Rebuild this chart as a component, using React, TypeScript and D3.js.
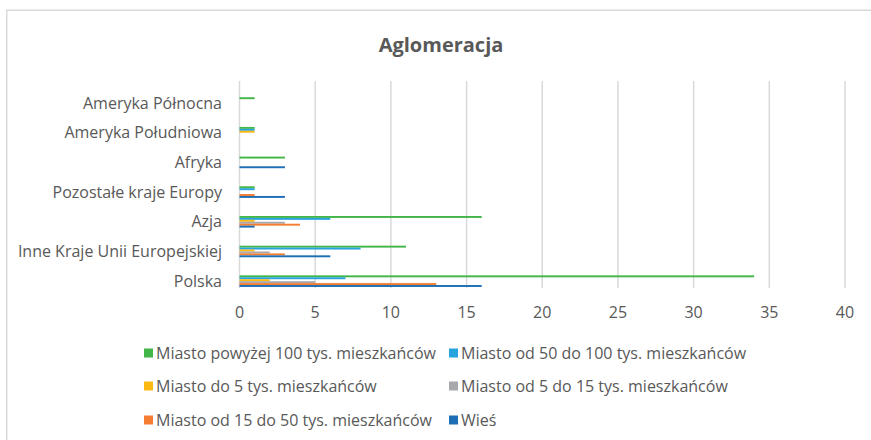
import React from "react";
import * as d3 from "d3";

const categories = [
  "Polska",
  "Inne Kraje Unii Europejskiej",
  "Azja",
  "Pozostałe kraje Europy",
  "Afryka",
  "Ameryka Południowa",
  "Ameryka Północna",
];

const seriesNames = [
  "Miasto powyżej 100 tys. mieszkańców",
  "Miasto od 50 do 100 tys. mieszkańców",
  "Miasto do 5 tys. mieszkańców",
  "Miasto od 5 do 15 tys. mieszkańców",
  "Miasto od 15 do 50 tys. mieszkańców",
  "Wieś",
];

const powyzej100 = [34, 11, 16, 1, 3, 1, 1];
const od50do100 = [7, 8, 6, 1, 0, 1, 0];
const do5 = [2, 1, 1, 0, 0, 1, 0];
const od5do15 = [5, 2, 3, 0, 0, 0, 0];
const od15do50 = [13, 3, 4, 1, 0, 0, 0];
const wies = [16, 6, 1, 3, 3, 0, 0];

const seriesValues = [powyzej100, od50do100, do5, od5do15, od15do50, wies];
const colors = ["#43B649", "#27A3DD", "#FDB913", "#A8A9AD", "#F47D30", "#1E6EB6"];

const xTicks = [0, 5, 10, 15, 20, 25, 30, 35, 40];

const W = 871;
const H = 440;
const FONT = "'Open Sans', sans-serif";
const TEXT = "#595959";

export default function App() {
  const x = d3.scaleLinear().domain([0, 40]).range([239.5, 845]);
  const y = d3
    .scaleBand<string>()
    .domain([...categories].reverse())
    .range([88.2, 296])
    .paddingInner(0)
    .paddingOuter(0);
  const groupH = 11.6;
  const inner = d3
    .scaleBand<string>()
    .domain(seriesNames)
    .range([0, groupH])
    .padding(0);

  const gridTop = 81;
  const gridBottom = 288;

  const legendRows = [
    [0, 1],
    [2, 3],
    [4, 5],
  ];
  const legendY = [353, 386, 420];
  const legendX = [144, 449];

  return (
    <svg
      width={W}
      height={H}
      style={{ position: "absolute", left: 0, top: 0, background: "#fff" }}
      fontFamily={FONT}
    >
      <rect x={0} y={0} width={W} height={H} fill="#fff" />
      <rect
        x={6.75}
        y={10.25}
        width={W + 10}
        height={H + 10}
        fill="#fff"
        stroke="#D9D9D9"
        strokeWidth={1.5}
      />
      <text
        x={441}
        y={52}
        textAnchor="middle"
        fontSize={20}
        fontWeight="bold"
        fill={TEXT}
      >
        Aglomeracja
      </text>
      {xTicks.map((t) => (
        <g key={t}>
          <line
            x1={x(t)}
            x2={x(t)}
            y1={gridTop}
            y2={gridBottom}
            stroke="#D9D9D9"
            strokeWidth={1.5}
          />
          <text
            x={x(t)}
            y={317.5}
            textAnchor="middle"
            fontSize={16}
            fill={TEXT}
          >
            {t}
          </text>
        </g>
      ))}
      {categories.map((c, ci) => {
        const cy = (y(c) as number) + y.bandwidth() / 2;
        return (
          <g key={c}>
            <text
              x={222}
              y={cy + 5.5}
              textAnchor="end"
              fontSize={16}
              fill={TEXT}
            >
              {c}
            </text>
            {seriesNames.map((s, si) => {
              const v = seriesValues[si][ci];
              if (!v) return null;
              return (
                <rect
                  key={s}
                  x={x(0)}
                  y={cy - groupH / 2 + (inner(s) as number)}
                  width={x(v) - x(0)}
                  height={inner.bandwidth()}
                  fill={colors[si]}
                />
              );
            })}
          </g>
        );
      })}
      {legendRows.map((row, ri) =>
        row.map((si, ciIdx) => (
          <g key={si}>
            <rect
              x={legendX[ciIdx]}
              y={legendY[ri] - 4.5}
              width={9}
              height={9}
              fill={colors[si]}
            />
            <text
              x={legendX[ciIdx] + 12}
              y={legendY[ri] + 5.5}
              fontSize={16}
              fill={TEXT}
            >
              {seriesNames[si]}
            </text>
          </g>
        ))
      )}
    </svg>
  );
}
